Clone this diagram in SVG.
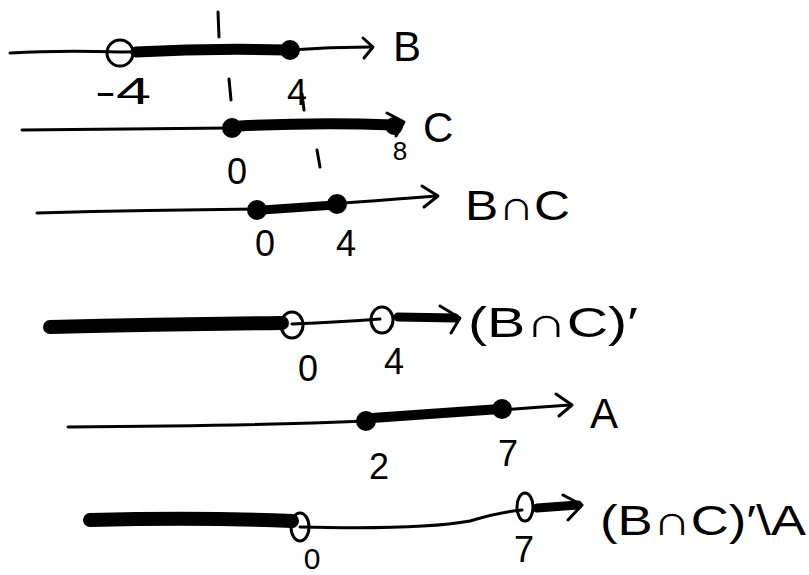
<svg xmlns="http://www.w3.org/2000/svg" width="809" height="575" viewBox="0 0 809 575">
<style>
.ln{fill:none;stroke:#000;stroke-width:3;stroke-linecap:round;stroke-linejoin:round}
.th{fill:none;stroke:#000;stroke-width:11;stroke-linecap:round}
.oc{fill:none;stroke:#000;stroke-width:3}
.fd{fill:#000;stroke:#000;stroke-width:2}
.t{font-family:"Liberation Sans","DejaVu Sans",sans-serif;font-size:42px;fill:#000}
.n{font-family:"Liberation Sans","DejaVu Sans",sans-serif;font-size:36px;fill:#000;text-anchor:middle}
</style>
<rect width="809" height="575" fill="#fff"/>
<g id="line-B">
<path class="ln" d="M10,53 Q60,50 120,52 L290,50 Q330,47 370,47"/>
<path class="ln" d="M363,38 L373,47 L364,58"/>
<path class="th" d="M136,52 Q210,48 288,50"/>
<circle class="oc" cx="120" cy="53" r="13"/>
<circle class="fd" cx="290" cy="50" r="9"/>
<path class="ln" d="M218,12 L219,37 M229,79 L231,100 M302,94 L304,110"/>
<text class="t" x="393" y="61">B</text>
<text class="n" x="123" y="104" textLength="56" lengthAdjust="spacingAndGlyphs">-4</text>
<text class="n" x="297" y="105">4</text>
</g>
<g id="line-C">
<path class="ln" d="M22,130 Q120,129 230,128 L398,124"/>
<path class="ln" d="M387,113 L404,122 L396,136"/>
<path class="th" d="M240,126 Q320,122 393,125"/>
<circle class="fd" cx="232" cy="128" r="9"/>
<circle class="fd" cx="394" cy="126" r="8"/>
<path class="ln" d="M317,150 L320,167"/>
<text class="t" x="423" y="142">C</text>
<text class="n" x="237" y="184">0</text>
<text class="n" x="400" y="160" style="font-size:26px">8</text>
</g>
<g id="line-BnC">
<path class="ln" d="M37,213 Q150,210 257,209 Q360,202 437,196"/>
<path class="ln" d="M422,186 L438,196 L424,207"/>
<path class="th" d="M262,210 L335,205" style="stroke-width:9"/>
<circle class="fd" cx="257" cy="210" r="9"/>
<circle class="fd" cx="337" cy="204" r="9"/>
<text class="t" x="465" y="220" textLength="105" lengthAdjust="spacingAndGlyphs">B∩C</text>
<text class="n" x="265" y="256">0</text>
<text class="n" x="346" y="256">4</text>
</g>
<g id="line-BnC-complement">
<path class="th" d="M50,327 Q170,324 282,323" style="stroke-width:14"/>
<path class="ln" d="M45,328 L60,327"/>
<path class="ln" d="M292,324 Q340,322 380,319"/>
<ellipse class="oc" cx="292" cy="325" rx="11" ry="13"/>
<ellipse class="oc" cx="382" cy="320" rx="11" ry="13"/>
<path class="th" d="M398,317 L455,318" style="stroke-width:9"/>
<path class="ln" d="M440,306 L460,318 L451,333"/>
<text class="t" x="468" y="337" textLength="170" lengthAdjust="spacingAndGlyphs">(B∩C)′</text>
<text class="n" x="308" y="381">0</text>
<text class="n" x="394" y="374">4</text>
</g>
<g id="line-A">
<path class="ln" d="M68,427 Q250,426 366,421 Q470,412 570,405"/>
<path class="ln" d="M556,394 L572,405 L559,416"/>
<path class="th" d="M372,418 Q440,413 500,409" style="stroke-width:10"/>
<circle class="fd" cx="366" cy="421" r="9"/>
<circle class="fd" cx="502" cy="409" r="9"/>
<text class="t" x="590" y="428">A</text>
<text class="n" x="379" y="479">2</text>
<text class="n" x="508" y="466">7</text>
</g>
<g id="line-BnC-complement-minus-A">
<path class="th" d="M90,520 Q200,517 292,521" style="stroke-width:14"/>
<path class="ln" d="M85,520 L100,519"/>
<path class="ln" d="M300,527 Q420,530 470,521 Q500,512 522,510"/>
<ellipse class="oc" cx="300" cy="527" rx="9" ry="14"/>
<ellipse class="oc" cx="525" cy="507" rx="8" ry="14"/>
<path class="th" d="M537,508 L578,505" style="stroke-width:9"/>
<path class="ln" d="M563,495 L582,505 L568,520"/>
<text class="t" x="600" y="535" textLength="206" lengthAdjust="spacingAndGlyphs">(B∩C)′\A</text>
<text class="n" x="312" y="569" style="font-size:30px">0</text>
<text class="n" x="524" y="562">7</text>
</g>
</svg>
